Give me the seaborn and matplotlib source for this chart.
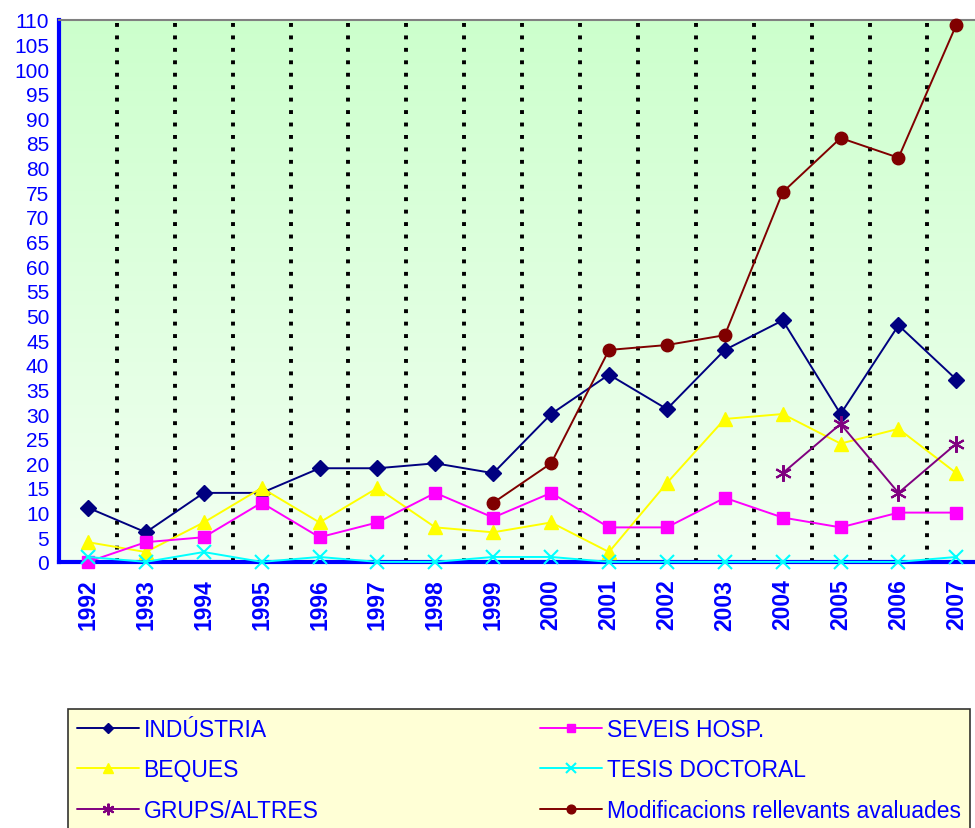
import matplotlib
matplotlib.use("Agg")
import matplotlib.pyplot as plt
import seaborn as sns
import numpy as np
import pandas as pd
from matplotlib.colors import LinearSegmentedColormap

# Data
years = [str(y) for y in range(1992, 2008)]
industria = [11, 6, 14, 14, 19, 19, 20, 18, 30, 38, 31, 43, 49, 30, 48, 37]
seveis = [0, 4, 5, 12, 5, 8, 14, 9, 14, 7, 7, 13, 9, 7, 10, 10]
beques = [4, 2, 8, 15, 8, 15, 7, 6, 8, 2, 16, 29, 30, 24, 27, 18]
tesis = [1, 0, 2, 0, 1, 0, 0, 1, 1, 0, 0, 0, 0, 0, 0, 1]
grups_years = ["2004", "2005", "2006", "2007"]
grups = [18, 28, 14, 24]
modif_years = ["1999", "2000", "2001", "2002", "2003", "2004", "2005", "2006", "2007"]
modif = [12, 20, 43, 44, 46, 75, 86, 82, 109]

sns.set_style("white")
plt.rcParams['font.family'] = ['Liberation Sans', 'DejaVu Sans']

fig = plt.figure(figsize=(9.75, 8.29), dpi=100)
ax = fig.add_axes([0.0605, 0.321, 0.94, 0.654])

blue = "#0000FF"
# legend order (column-wise fill): left column first, then right column
series = [
    ("INDÚSTRIA", years, industria, "#000080", "D", 8),
    ("BEQUES", years, beques, "#FFFF00", "^", 10),
    ("GRUPS/ALTRES", grups_years, grups, "#800080", (6, 2, 0), 12),
    ("SEVEIS HOSP.", years, seveis, "#FF00FF", "s", 9),
    ("TESIS DOCTORAL", years, tesis, "#00FFFF", "x", 10),
    ("Modificacions rellevants avaluades", modif_years, modif, "#800000", "o", 9),
]

# background gradient
cmap = LinearSegmentedColormap.from_list("bg", ["#F2FFF2", "#CCFFCC"])
ax.imshow(np.linspace(0, 1, 256).reshape(-1, 1), extent=[-0.47, 15.33, 0, 110],
          origin="lower", aspect="auto", cmap=cmap, zorder=0)

# dotted category dividers
for b in np.arange(0.5, 15.5, 1):
    ax.axvline(b, color="black", linestyle=(0, (1, 2.2)), linewidth=2.8, zorder=1)

for name, xs, ys, col, mk, ms in series:
    xi = [years.index(x) for x in xs]
    df = pd.DataFrame({"x": xi, "y": ys})
    sns.lineplot(data=df, x="x", y="y", ax=ax, color=col, marker=mk, markersize=ms,
                 markeredgecolor=col, markeredgewidth=1.5 if mk in ("x", (6, 2, 0)) else 1,
                 linewidth=1.4, label=name, zorder=3, clip_on=False)

ax.set_xlim(-0.47, 15.33)
ax.set_ylim(0, 110)
ax.set_yticks(range(0, 111, 5))
ax.set_xticks(np.arange(-0.5, 15.5, 1))
ax.set_xticklabels([])
ax.set_xticks(range(len(years)), minor=True)
ax.set_xticklabels(years, minor=True, rotation=90, fontsize=16.5, fontweight="bold", color=blue)
ax.tick_params(axis="x", which="minor", length=0, pad=12)
ax.tick_params(axis="x", which="major", direction="out", length=7, width=3, color=blue)
ax.tick_params(axis="y", direction="out", length=6, width=2, color=blue, labelsize=15,
               labelcolor=blue, pad=1)
ax.set_xlabel("")
ax.set_ylabel("")
ax.spines["left"].set_color(blue)
ax.spines["left"].set_linewidth(3)
ax.spines["bottom"].set_color(blue)
ax.spines["bottom"].set_linewidth(3)
ax.spines["top"].set_color("#808080")
ax.spines["top"].set_linewidth(1.5)
ax.spines["right"].set_visible(False)
ax.get_legend().remove()

handles, labels = ax.get_legend_handles_labels()
leg = fig.legend(handles, labels, loc="upper left", ncol=2, mode="expand",
                 bbox_to_anchor=(0.0697, -0.1, 0.925, 0.2435), borderaxespad=0,
                 fontsize=16.5, frameon=True, fancybox=False, facecolor="#FFFFCC",
                 edgecolor="black", labelspacing=0.75, handlelength=2.7,
                 handletextpad=0.2, borderpad=0.4, markerscale=0.7)
leg.get_frame().set_linewidth(1.2)
for t in leg.get_texts():
    t.set_color(blue)

fig.savefig("out.png", dpi=100)
